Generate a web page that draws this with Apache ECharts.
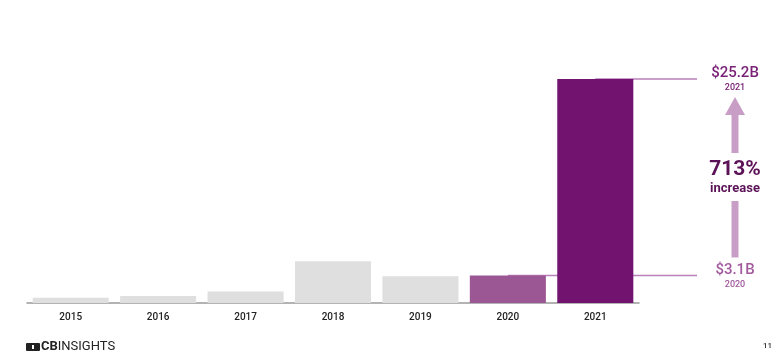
<!DOCTYPE html>
<html>
<head>
<meta charset="utf-8">
<script src="https://cdn.jsdelivr.net/npm/echarts@6/dist/echarts.min.js"></script>
<style>
  html, body { margin: 0; padding: 0; background: #fff; }
  #chart { width: 780px; height: 355px; }
</style>
</head>
<body>
<div id="chart"></div>
<script>
// funding by year, $B
var years = ['2015', '2016', '2017', '2018', '2019', '2020', '2021'];
var funding = [0.6, 0.8, 1.3, 4.7, 3.0, 3.1, 25.2];
var barColors = ['#e0dfe0', '#e0dfe0', '#e0dfe0', '#e0dfe0', '#e0dfe0', '#9b5794', '#72146f'];

var chart = echarts.init(document.getElementById('chart'));

var option = {
    animation: false,
    grid: { left: 27, right: 141, top: 79, bottom: 52 },
    xAxis: {
        type: 'category',
        data: years,
        axisLine: { lineStyle: { color: '#9a9a9a', width: 1.5 } },
        axisTick: { show: false },
        axisLabel: { color: '#222', fontSize: 10, fontFamily: 'Roboto', fontWeight: 500, margin: 9 }
    },
    yAxis: {
        type: 'value',
        min: 0,
        max: 25.2,
        show: false
    },
    series: [{
        type: 'bar',
        data: funding.map(function (v, i) {
            return { value: v, itemStyle: { color: barColors[i] } };
        }),
        barCategoryGap: '13%',
        z: 3
    }]
};
chart.setOption(option);

// annotation lines and arrow, placed with the chart's own scale
var y2021 = chart.convertToPixel({ yAxisIndex: 0 }, funding[6]);
var y2020 = chart.convertToPixel({ yAxisIndex: 0 }, funding[5]);
var x2020 = chart.convertToPixel({ xAxisIndex: 0 }, years[5]);
var x2021 = chart.convertToPixel({ xAxisIndex: 0 }, years[6]);
var lineEnd = 697;
var cx = 735;
var lineColor = '#b97fb8';
var arrowColor = '#c89dc6';

chart.setOption({
    graphic: [
        { type: 'line', z: 1, shape: { x1: x2021, y1: y2021, x2: lineEnd, y2: y2021 },
          style: { stroke: lineColor, lineWidth: 1.5 } },
        { type: 'line', z: 1, shape: { x1: x2020, y1: y2020, x2: lineEnd, y2: y2020 },
          style: { stroke: lineColor, lineWidth: 1.5 } },
        { type: 'text', x: cx, y: y2021 - 6, style: { text: '$25.2B', fill: '#7a2277',
          font: '500 15px Roboto', align: 'center', verticalAlign: 'middle' } },
        { type: 'text', x: cx, y: y2021 + 9, style: { text: '2021', fill: '#7a2277',
          font: '500 9px Roboto', align: 'center', verticalAlign: 'middle' } },
        { type: 'polygon', shape: { points: [[cx, y2021 + 18], [cx - 10, y2021 + 36], [cx + 10, y2021 + 36]] },
          style: { fill: arrowColor } },
        { type: 'rect', shape: { x: cx - 3.5, y: y2021 + 35, width: 7, height: 39 },
          style: { fill: arrowColor } },
        { type: 'text', x: cx, y: 170, style: { text: '713%', fill: '#5c1257',
          font: 'bold 21px Roboto', align: 'center', verticalAlign: 'middle' } },
        { type: 'text', x: cx, y: 189, style: { text: 'increase', fill: '#5c1257',
          font: 'bold 13px Roboto', align: 'center', verticalAlign: 'middle' } },
        { type: 'rect', shape: { x: cx - 3.5, y: 201, width: 7, height: y2020 - 18 - 201 },
          style: { fill: arrowColor } },
        { type: 'text', x: cx, y: y2020 - 5, style: { text: '$3.1B', fill: '#a25a9f',
          font: '500 15px Roboto', align: 'center', verticalAlign: 'middle' } },
        { type: 'text', x: cx, y: y2020 + 9, style: { text: '2020', fill: '#a25a9f',
          font: '500 9px Roboto', align: 'center', verticalAlign: 'middle' } },
        // logo
        { type: 'rect', shape: { x: 26, y: 343, width: 14, height: 8, r: 1 }, style: { fill: '#222' } },
        { type: 'rect', shape: { x: 32, y: 345, width: 2, height: 4 }, style: { fill: '#fff' } },
        { type: 'text', x: 41, y: 347, style: { text: '{b|CB}{n|INSIGHTS}', verticalAlign: 'middle',
          rich: { b: { font: 'bold 13px Roboto', fill: '#222' }, n: { font: '13px Roboto', fill: '#222' } } } },
        { type: 'text', x: 772, y: 346, style: { text: '11', fill: '#333', font: '500 8px Roboto',
          align: 'right', verticalAlign: 'middle' } }
    ]
});
</script>
</body>
</html>
